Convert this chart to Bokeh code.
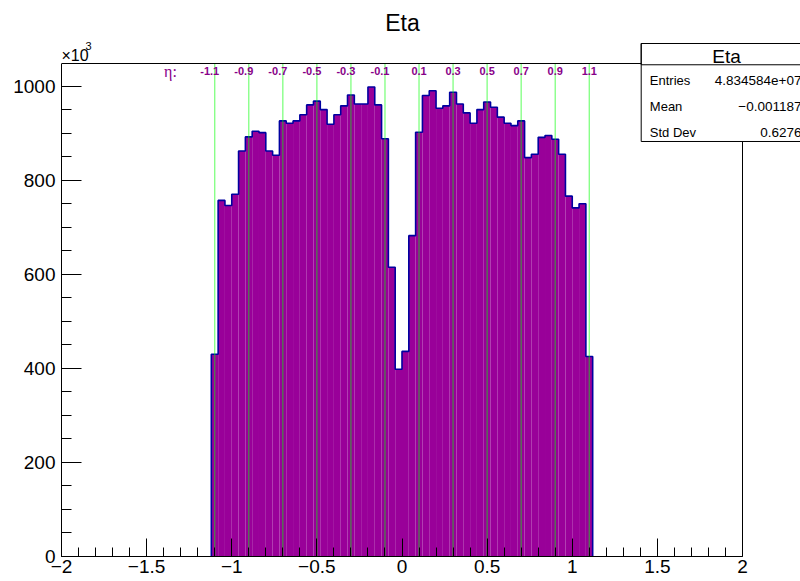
import numpy as np
from bokeh.plotting import figure
from bokeh.models import Range1d, FixedTicker, Label, BoxAnnotation, ColumnDataSource
from bokeh.core.properties import value
from bokeh.embed import file_html
from bokeh.resources import INLINE

# ---------------- data ----------------
# Histogram "Eta": 100 bins in [-2, 2] (width 0.04); only bins in [-1.12, 1.12] are filled.
BIN_WIDTH = 0.04
FIRST_EDGE = -1.12
# bin contents in units of 10^3 entries, left to right
counts = [
    430, 757, 746, 770, 862, 892, 904, 901, 862, 853,
    926, 921, 926, 939, 960, 968, 950, 919, 939, 958,
    981, 962, 962, 998, 960, 888, 615, 398,
    436, 682, 902, 980, 990, 953, 958, 987, 962, 943,
    921, 950, 966, 955, 934, 921, 916, 926, 848, 855,
    891, 895, 887, 855, 766, 741, 750, 425,
]
# eta marker lines and their labels
eta_lines = [-1.1, -0.9, -0.7, -0.5, -0.3, -0.1, 0.1, 0.3, 0.5, 0.7, 0.9, 1.1]
eta_labels = ["-1.1", "-0.9", "-0.7", "-0.5", "-0.3", "-0.1", "0.1", "0.3", "0.5", "0.7", "0.9", "1.1"]
# axis ticks
x_ticks = [-2, -1.5, -1, -0.5, 0, 0.5, 1, 1.5, 2]
x_tick_labels = ["\u22122", "\u22121.5", "\u22121", "\u22120.5", "0", "0.5", "1", "1.5", "2"]
y_ticks = [0, 200, 400, 600, 800, 1000]
# stats box
stats_title = "Eta"
stats_names = ["Entries", "Mean", "Std Dev"]
stats_values = ["4.834584e+07", "\u22120.001187", "0.6276"]

# ---------------- figure ----------------
FONT = "Liberation Sans"
PURPLE = "#990099"
X_MIN, X_MAX = -2, 2          # histogram axis range
Y_MAX = 1048                  # histogram frame top
# the plotting area is extended to the right and top canvas edges so that the
# title and the statistics box (which sit outside the histogram frame) can be drawn
X_END = X_MIN + (X_MAX - X_MIN) * 739 / 681
Y_END = Y_MAX * 556 / 493

p = figure(width=800, height=581, output_backend="svg", toolbar_location=None,
           x_range=Range1d(X_MIN, X_END), y_range=Range1d(0, Y_END),
           min_border_left=61, min_border_right=0, min_border_top=0, min_border_bottom=25)
p.background_fill_color = "white"
p.border_fill_color = "white"
p.outline_line_color = None
p.xgrid.visible = False
p.ygrid.visible = False

edges = np.round(FIRST_EDGE + BIN_WIDTH * np.arange(len(counts) + 1), 4)
src = ColumnDataSource(dict(left=edges[:-1], right=edges[1:], top=counts))
p.quad(left="left", right="right", bottom=0, top="top", source=src,
       fill_color=PURPLE, line_color=None)

# outline of the histogram (step)
ox, oy = [edges[0]], [0]
for i, c in enumerate(counts):
    ox += [edges[i], edges[i + 1]]
    oy += [c, c]
ox.append(edges[-1]); oy.append(0)
p.line(ox, oy, line_color="#0000a0", line_width=1.6)

# green eta lines
p.segment(x0=eta_lines, y0=[0] * len(eta_lines), x1=eta_lines, y1=[Y_MAX] * len(eta_lines),
          line_color="#00ff00", line_alpha=0.5, line_width=1.3)
offs = [-5 if v < 0 else 0 for v in eta_lines]
p.text(x=eta_lines, y=[1032] * len(eta_lines), text=eta_labels, x_offset=offs,
       text_font=value(FONT), text_font_style="bold", text_font_size="11px",
       text_color="#880088", text_align="center", text_baseline="middle")

p.add_layout(Label(x=-1.36, y=1031, text="\u03b7:", text_font="Liberation Serif",
                   text_font_size="16px", text_color="#880088",
                   text_align="center", text_baseline="middle"))

# frame: top and right edges
p.line([X_MIN, X_MAX, X_MAX], [Y_MAX, Y_MAX, 0], line_color="black", line_width=1)

# axes
p.xaxis.ticker = FixedTicker(ticks=x_ticks, minor_ticks=list(np.round(np.arange(-2, 2.001, 0.1), 2)))
p.xaxis.major_label_overrides = {float(t): l for t, l in zip(x_ticks, x_tick_labels)}
p.yaxis.ticker = FixedTicker(ticks=y_ticks, minor_ticks=list(range(0, 1050, 50)))
p.xaxis.bounds = (X_MIN, X_MAX)
p.yaxis.bounds = (0, Y_MAX)
for ax in (p.xaxis[0], p.yaxis[0]):
    ax.axis_line_color = "black"
    ax.major_tick_line_color = "black"
    ax.minor_tick_line_color = "black"
    ax.major_tick_out = 0
    ax.minor_tick_out = 0
    ax.major_label_text_font = FONT
    ax.major_label_text_font_size = "19px"
    ax.major_label_text_color = "black"
p.xaxis.major_tick_in = 18
p.xaxis.minor_tick_in = 9
p.xaxis.major_label_standoff = 3
p.yaxis.major_tick_in = 20
p.yaxis.minor_tick_in = 10
p.yaxis.major_label_standoff = 6

# exponent marker  (x10^3)
p.add_layout(Label(x=-2.0, y=1065, text="\u00d710", text_font=FONT,
                   text_font_size="16px", text_color="black",
                   text_align="left", text_baseline="middle"))
p.add_layout(Label(x=-1.859, y=1086, text="3", text_font=FONT,
                   text_font_size="11px", text_color="black",
                   text_align="left", text_baseline="middle"))

# title
p.add_layout(Label(x=0.003, y=1135, text="Eta", text_font=FONT, text_font_size="23px",
                   text_color="black", text_align="center", text_baseline="middle"))

# stats box
p.add_layout(BoxAnnotation(left=1.405, right=2.6, top=1090.5, bottom=882.2,
                           fill_color="white", fill_alpha=1.0,
                           line_color="black", line_width=1, line_alpha=1.0))
p.add_layout(BoxAnnotation(left=1.405, right=2.6, top=1090.5, bottom=1045.3,
                           fill_alpha=0.0, line_color="black", line_width=1, line_alpha=1.0))
p.add_layout(Label(x=1.906, y=1063.5, text=stats_title, text_font=FONT, text_font_size="19px",
                   text_color="black", text_align="center", text_baseline="middle"))
row_y = [1011.9, 956.6, 902.0]
for name, val, yy in zip(stats_names, stats_values, row_y):
    p.add_layout(Label(x=1.4557, y=yy, text=name, text_font=FONT, text_font_size="13px",
                       text_color="black", text_align="left", text_baseline="middle"))
    p.add_layout(Label(x=2.3466, y=yy, text=val, text_font=FONT, text_font_size="13.5px",
                       text_color="black", text_align="right", text_baseline="middle"))

open("out.html", "w").write(file_html(p, INLINE))
